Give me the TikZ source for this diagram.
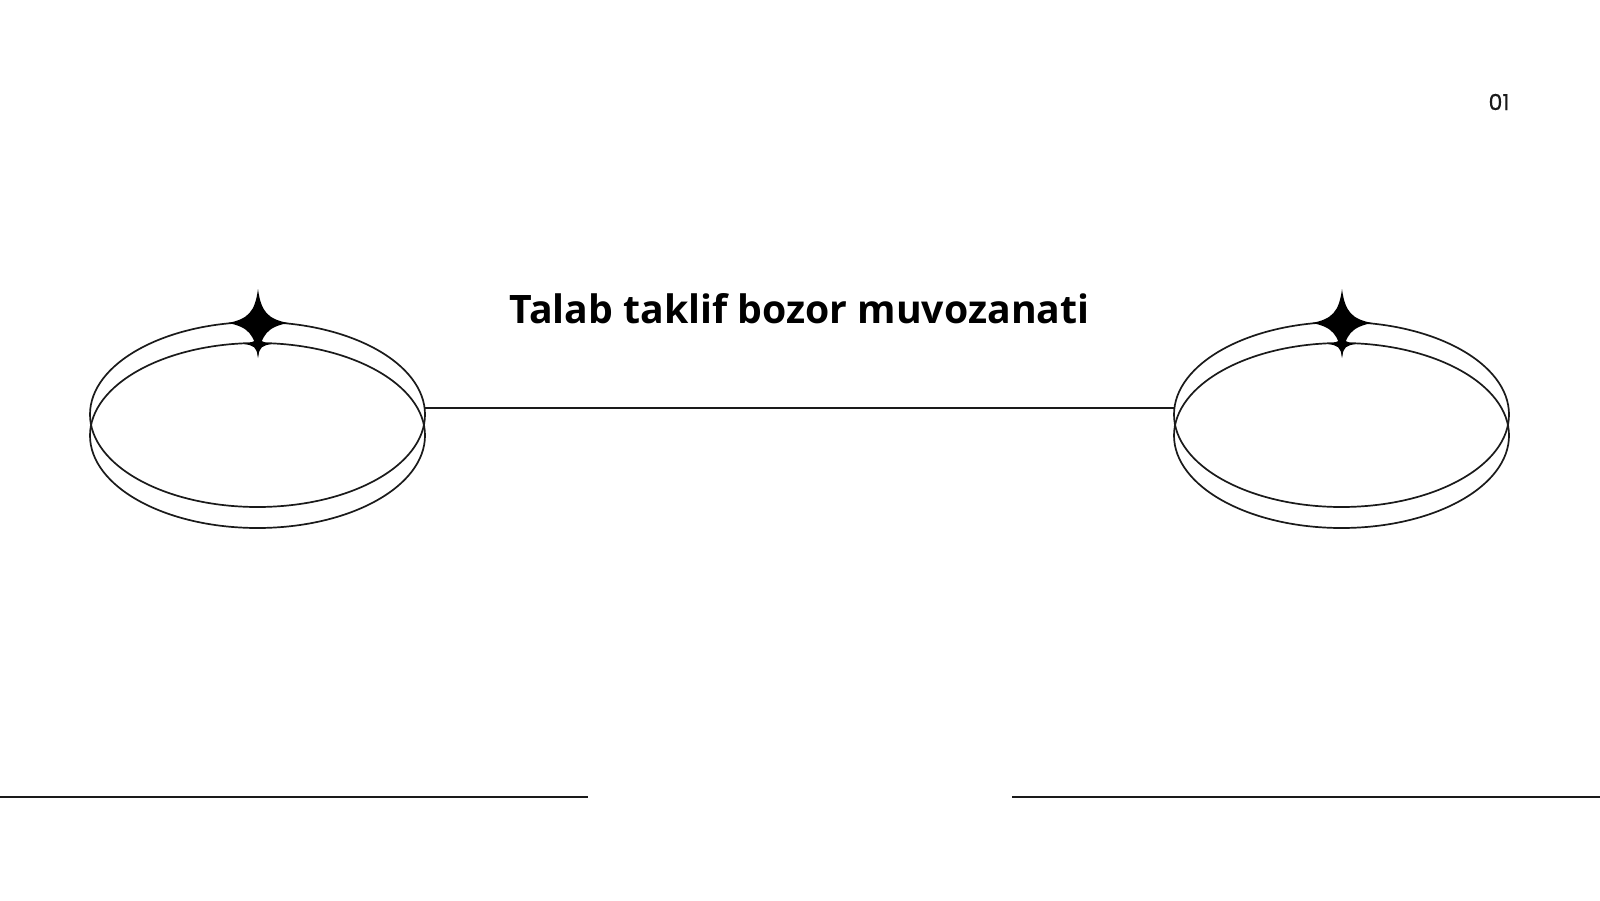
\documentclass[tikz,border=0pt]{standalone}
\usepackage{fontspec}
\setmainfont{Open Sans}
\newfontfamily\numfont[FakeBold=0.6]{Poppins}
\usetikzlibrary{shapes.geometric}
\definecolor{ink}{HTML}{1A1A1A}
\tikzset{
  ring/.style={ellipse, draw=ink, line width=1.7pt, minimum width=335pt, minimum height=185pt, inner sep=0pt},
  wire/.style={draw=ink, line width=1.7pt},
  sparkle/.pic={\fill[black] (0,-34) .. controls (3,-11) and (10,-4) .. (30,0) .. controls (10,4) and (3,11) .. (0,35) .. controls (-3,11) and (-10,4) .. (-30,0) .. controls (-10,-4) and (-3,-11) .. cycle;},
  sparklesmall/.pic={\fill[black] (0,-10) .. controls (1.5,-3) and (4,-1.5) .. (14,0) .. controls (4,1.5) and (1.5,3) .. (0,13) .. controls (-1.5,3) and (-4,1.5) .. (-14,0) .. controls (-4,-1.5) and (-1.5,-3) .. cycle;}
}
\begin{document}
\begin{tikzpicture}[x=1pt,y=-1pt]
\useasboundingbox (0,0) rectangle (1600,900);
\fill[white] (0,0) rectangle (1600,900);
% left rings
\node[ring] (L1) at (257.5,414.5) {};
\node[ring] (L2) at (257.5,435.5) {};
\pic at (258,323) {sparkle};
\pic at (258,344) {sparklesmall};
% right rings
\node[ring] (R1) at (1341.5,414.5) {};
\node[ring] (R2) at (1341.5,435.5) {};
\pic at (1342,323) {sparkle};
\pic at (1342,344) {sparklesmall};
% connector
\coordinate (ca) at (424,408);
\coordinate (cb) at (1175,408);
\draw[wire] (ca) -- (cb);
% title
\node[font=\fontsize{39.2}{46}\selectfont\bfseries, text=black, inner sep=0pt] (title) at (799.5,309) {Talab taklif bozor muvozanati};
% page number
\node[font=\numfont\fontsize{22}{25}\selectfont, text=ink, inner sep=0pt] (num) at (1499,102) {01};
% bottom lines
\coordinate (b1) at (0,797);
\coordinate (b2) at (588,797);
\coordinate (b3) at (1012,797);
\coordinate (b4) at (1600,797);
\draw[wire] (b1) -- (b2);
\draw[wire] (b3) -- (b4);
\end{tikzpicture}
\end{document}
